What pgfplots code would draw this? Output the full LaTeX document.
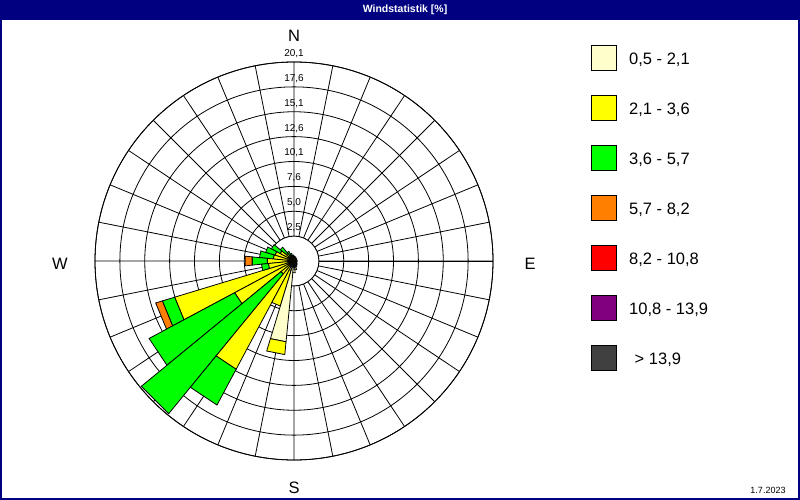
\documentclass[border=0pt]{standalone}
\usepackage{fontspec}
\setmainfont{Liberation Sans}
\usepackage{pgfplots}
\pgfplotsset{compat=1.18}
\usepgfplotslibrary{polar}
\definecolor{cLY}{HTML}{FFFFCC}
\definecolor{cY}{HTML}{FFFF00}
\definecolor{cG}{HTML}{00FF00}
\definecolor{cO}{HTML}{FF8000}
\definecolor{cR}{HTML}{FF0000}
\definecolor{cP}{HTML}{800080}
\definecolor{cD}{HTML}{414041}
\definecolor{navy}{HTML}{000080}
\pgfplotsset{seg/.style={draw=black, line width=0.8bp, fill=#1}}
% \seg{colour}{angle edge 1}{angle edge 2}{inner radius}{outer radius}  (angles: mathematical, 0 = East)
\newcommand{\seg}[5]{\addplot[seg=#1] coordinates {(#2,#4) (#2,#5) (#3,#5) (#3,#4)} -- cycle;}
\newcommand{\legfont}{\fontsize{16.5bp}{19bp}\selectfont}
\newcommand{\ringfont}{\fontsize{10bp}{12bp}\selectfont}
\begin{document}
\begin{tikzpicture}
\useasboundingbox (0bp,0bp) rectangle (800bp,500bp);
\fill[white] (0bp,0bp) rectangle (800bp,500bp);
\fill[navy] (0bp,480bp) rectangle (800bp,500bp);
\draw[navy, line width=2bp] (1bp,1bp) rectangle (799bp,499bp);
\node[text=white, font=\bfseries\fontsize{10.5bp}{12bp}\selectfont] at (405bp,490.5bp) {Windstatistik [\%]};
\begin{polaraxis}[
  at={(294bp,239bp)}, anchor=origin,
  scale only axis, width=398bp, height=398bp,
  ymin=0, ymax=20.1,
  xtick={0,11.25,...,348.75}, xticklabels={},
  ytick={2.5125,5.025,7.5375,10.05,12.5625,15.075,17.5875,20.1}, yticklabels={},
  major tick length=0pt,
  grid=major, major grid style={black, line width=0.8bp},
  axis line style={black, line width=0.8bp},
  clip=false,
]
\draw[fill=white, line width=0.8bp] (axis cs:0,0) circle[radius=24.88bp];
% WSW 247.5
\seg{cY}{-151.875}{-163.125}{0}{12.6}
\seg{cG}{-151.875}{-163.125}{12.6}{13.9}
\seg{cO}{-151.875}{-163.125}{13.9}{14.6}
% SWbW 236.25
\seg{cY}{-140.625}{-151.875}{0}{6.8}
\seg{cG}{-140.625}{-151.875}{6.8}{16.6}
% SW 225
\seg{cY}{-129.375}{-140.625}{0}{1.7}
\seg{cG}{-129.375}{-140.625}{1.7}{19.95}
% SWbS 213.75
\seg{cY}{-118.125}{-129.375}{0}{12.4}
\seg{cG}{-118.125}{-129.375}{12.4}{16.5}
% SSW 202.5
\seg{cLY}{-106.875}{-118.125}{0}{1.0}
\seg{cY}{-106.875}{-118.125}{1.0}{4.75}
% SbW 191.25
\seg{cLY}{-95.625}{-106.875}{0}{8.2}
\seg{cY}{-95.625}{-106.875}{8.2}{9.5}
% S 180
\seg{cLY}{-84.375}{-95.625}{0}{1.2}
% SbE .. N (east half)
\seg{cLY}{-73.125}{-84.375}{0}{0.9}
\seg{cLY}{-61.875}{-73.125}{0}{0.6}
\seg{cLY}{-50.625}{-61.875}{0}{0.5}
\seg{cLY}{-39.375}{-50.625}{0}{0.4}
\seg{cLY}{-28.125}{-39.375}{0}{0.3}
\seg{cLY}{-16.875}{-28.125}{0}{0.3}
\seg{cLY}{-5.625}{-16.875}{0}{0.3}
\seg{cLY}{5.625}{-5.625}{0}{0.3}
\seg{cLY}{16.875}{5.625}{0}{0.3}
\seg{cLY}{28.125}{16.875}{0}{0.3}
\seg{cLY}{39.375}{28.125}{0}{0.3}
\seg{cLY}{50.625}{39.375}{0}{0.3}
\seg{cLY}{61.875}{50.625}{0}{0.35}
\seg{cLY}{73.125}{61.875}{0}{0.4}
\seg{cLY}{84.375}{73.125}{0}{0.45}
\seg{cLY}{95.625}{84.375}{0}{0.5}
% NbW 348.75
\seg{cLY}{106.875}{95.625}{0}{0.3}
\seg{cY}{106.875}{95.625}{0.3}{0.6}
% NNW 337.5
\seg{cY}{118.125}{106.875}{0}{0.5}
\seg{cG}{118.125}{106.875}{0.5}{0.8}
% NWbN 326.25
\seg{cY}{129.375}{118.125}{0}{0.6}
\seg{cG}{129.375}{118.125}{0.6}{1.1}
% NW 315
\seg{cY}{140.625}{129.375}{0}{1.0}
\seg{cG}{140.625}{129.375}{1.0}{1.8}
% NWbW 303.75
\seg{cY}{151.875}{140.625}{0}{1.6}
\seg{cG}{151.875}{140.625}{1.6}{2.6}
% WNW 292.5
\seg{cY}{163.125}{151.875}{0}{2.0}
\seg{cG}{163.125}{151.875}{2.0}{3.0}
% WbN 281.25
\seg{cY}{174.375}{163.125}{0}{2.1}
\seg{cG}{174.375}{163.125}{2.1}{3.5}
% W 270
\seg{cY}{185.625}{174.375}{0}{2.7}
\seg{cG}{185.625}{174.375}{2.7}{4.25}
\seg{cO}{185.625}{174.375}{4.25}{4.95}
% WbS 258.75
\seg{cY}{196.875}{185.625}{0}{2.6}
\seg{cG}{196.875}{185.625}{2.6}{3.3}
% ring labels
\node[anchor=base, yshift=5.5bp, font=\ringfont] at (axis cs:90,2.5125) {2,5};
\node[anchor=base, yshift=5.5bp, font=\ringfont] at (axis cs:90,5.025) {5,0};
\node[anchor=base, yshift=5.5bp, font=\ringfont] at (axis cs:90,7.5375) {7,6};
\node[anchor=base, yshift=5.5bp, font=\ringfont] at (axis cs:90,10.05) {10,1};
\node[anchor=base, yshift=5.5bp, font=\ringfont] at (axis cs:90,12.5625) {12,6};
\node[anchor=base, yshift=5.5bp, font=\ringfont] at (axis cs:90,15.075) {15,1};
\node[anchor=base, yshift=5.5bp, font=\ringfont] at (axis cs:90,17.5875) {17,6};
\node[anchor=base, yshift=5.5bp, font=\ringfont] at (axis cs:90,20.1) {20,1};
\end{polaraxis}
% compass
\node[anchor=base, font=\legfont] at (294bp,458bp) {N};
\node[anchor=base, font=\legfont] at (294bp,6.5bp) {S};
\node[font=\legfont] at (60bp,236bp) {W};
\node[font=\legfont] at (530bp,236bp) {E};
% legend
\foreach \c/\t [count=\i from 0] in {cLY/{0,5 - 2,1}, cY/{2,1 - 3,6}, cG/{3,6 - 5,7}, cO/{5,7 - 8,2}, cR/{8,2 - 10,8}, cP/{10,8 - 13,9}, cD/{\hspace*{5.5bp}> 13,9}} {
  \pgfmathsetmacro{\yy}{442-50*\i}
  \draw[fill=\c, line width=0.8bp] (591bp,\yy bp-12.5bp) rectangle (616bp,\yy bp+12.5bp);
  \node[anchor=base west, inner sep=0pt, font=\legfont] at (629bp,\yy bp-6.5bp) {\t};
}
\node[anchor=base, inner sep=0pt, font=\fontsize{9bp}{11bp}\selectfont] at (768bp,7bp) {1.7.2023};
\end{tikzpicture}
\end{document}
